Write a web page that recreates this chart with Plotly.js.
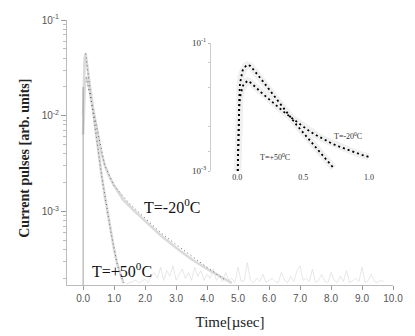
<!DOCTYPE html>
<html><head><meta charset="utf-8">
<script src="https://cdn.plot.ly/plotly-3.0.1.min.js"></script>
<style>html,body{margin:0;padding:0;background:#fff}#chart{width:415px;height:336px}</style>
</head><body><div id="chart"></div>
<script>
// ---- Main panel: measured current pulses (gray bands) ----
const t50 = [0.0, 0.02, 0.05, 0.08, 0.12, 0.2, 0.3, 0.4, 0.5, 0.6, 0.7, 0.8, 0.9, 1.0, 1.1, 1.2, 1.3];
const i50 = [0.01, 0.0282, 0.0398, 0.0447, 0.0355, 0.0219, 0.012, 0.00676, 0.00389, 0.00234, 0.00145, 0.00093, 0.000603, 0.000398, 0.000282, 0.000219, 0.000178];
const t20 = [0.0, 0.03, 0.06, 0.1, 0.15, 0.2, 0.3, 0.4, 0.5, 0.6, 0.7, 0.85, 1.0, 1.3, 1.6, 2.0, 2.5, 3.0, 3.5, 4.0, 4.5, 4.8];
const i20 = [0.00631, 0.0178, 0.0234, 0.0251, 0.0229, 0.0191, 0.0126, 0.00832, 0.00562, 0.00398, 0.00302, 0.00229, 0.00186, 0.00132, 0.00105, 0.000794, 0.000562, 0.000417, 0.000316, 0.000251, 0.0002, 0.000178];
// fitted (dark dotted) lines
const fit50T = [0.08, 0.3, 0.6, 0.9, 1.1, 1.3];
const fit50V = [0.0447, 0.012, 0.00234, 0.0006, 0.00028, 0.00018];
const fit20T = [0.1, 0.4, 0.7, 1.0, 1.5, 2.0, 2.5, 3.0, 3.5, 4.0, 4.6];
const fit20V = [0.0251, 0.0083, 0.003, 0.00186, 0.0012, 0.00085, 0.0006, 0.00045, 0.00034, 0.00026, 0.00019];
// rising edge
const edgeT = [0.0, 0.0];
const edgeV = [0.00017, 0.02];
// noise floor
const noiseT = [1.4,1.5,1.6,1.7,1.8,1.9,2.0,2.1,2.2,2.3,2.4,2.5,2.6,2.7,2.8,2.9,3.0,3.1,3.2,3.3,3.4,3.5,3.6,3.7,3.8,3.9,4.0,4.1,4.2,4.3,4.4,4.5,4.6,4.7,4.8,4.9,5.0,5.1,5.2,5.3,5.4,5.5,5.6,5.7,5.8,5.9,6.0,6.1,6.2,6.3,6.4,6.5,6.6,6.7,6.8,6.9,7.0,7.1,7.2,7.3,7.4,7.5,7.6,7.7,7.8,7.9,8.0,8.1,8.2,8.3,8.4,8.5,8.6,8.7,8.8,8.9,9.0,9.1,9.2,9.3,9.4,9.5,9.6,9.7];
const noiseV = [0.000175,0.00018,0.000185,0.00019,0.000178,0.000185,0.000195,0.00018,0.00021,0.00023,0.0002,0.00026,0.00019,0.00024,0.00021,0.00027,0.00019,0.00022,0.00025,0.0002,0.00023,0.00019,0.00026,0.00021,0.00024,0.00019,0.00022,0.0002,0.00025,0.00019,0.00021,0.000185,0.00023,0.00019,0.0002,0.00018,0.00026,0.000185,0.00019,0.00029,0.00019,0.00018,0.0002,0.000185,0.00022,0.00018,0.00019,0.0002,0.000185,0.00018,0.00023,0.00019,0.00018,0.00021,0.000185,0.00024,0.00027,0.00019,0.0002,0.000185,0.00025,0.00018,0.00019,0.00022,0.000185,0.00018,0.00023,0.00019,0.00018,0.00021,0.000185,0.00024,0.00018,0.00019,0.0002,0.000185,0.00026,0.00018,0.00019,0.00022,0.000185,0.00018,0.00019,0.000185];
// ---- Inset panel ----
const in50T = [0.003, 0.006, 0.01, 0.015, 0.02, 0.03, 0.04, 0.05, 0.06, 0.073, 0.085, 0.1, 0.12, 0.15, 0.18, 0.225, 0.27, 0.31, 0.35, 0.4, 0.45, 0.5, 0.55, 0.6, 0.65, 0.7, 0.73];
const in50V = [0.001, 0.00251, 0.00631, 0.0141, 0.0234, 0.0316, 0.0372, 0.0407, 0.0437, 0.0457, 0.0452, 0.0437, 0.0389, 0.0331, 0.0275, 0.0209, 0.0158, 0.0123, 0.00955, 0.00708, 0.00525, 0.00398, 0.00302, 0.00229, 0.00174, 0.00132, 0.00112];
const in20T = [0.003, 0.006, 0.01, 0.015, 0.02, 0.03, 0.04, 0.05, 0.065, 0.078, 0.09, 0.11, 0.14, 0.18, 0.225, 0.27, 0.31, 0.35, 0.4, 0.45, 0.5, 0.55, 0.6, 0.65, 0.7, 0.75, 0.8, 0.85, 0.9, 0.95, 1.0];
const in20V = [0.001, 0.00224, 0.00501, 0.01, 0.0141, 0.0182, 0.0209, 0.0229, 0.0245, 0.0257, 0.0251, 0.0234, 0.0204, 0.017, 0.0141, 0.0115, 0.00977, 0.00851, 0.00708, 0.00589, 0.0049, 0.00417, 0.00363, 0.00316, 0.00282, 0.00251, 0.00229, 0.00209, 0.00191, 0.00178, 0.00166];
// ---- tick labels ----
const xTickVals = [0,1,2,3,4,5,6,7,8,9,10];
const yMajorVals = [0.001, 0.01, 0.1];
const yMajorText = ['10<sup>-3</sup>', '10<sup>-2</sup>', '10<sup>-1</sup>'];
const yMinorVals = [0.0002,0.0003,0.0004,0.0005,0.0006,0.0007,0.0008,0.0009,0.002,0.003,0.004,0.005,0.006,0.007,0.008,0.009,0.02,0.03,0.04,0.05,0.06,0.07,0.08,0.09];
const insetYVals = [0.001, 0.1];
const insetYText = ['10<sup>-3</sup>', '10<sup>-1</sup>'];
const insetXVals = [0, 0.5, 1.0];
const labels = ['T=-20<sup>0</sup>C', 'T=+50<sup>0</sup>C'];

const serif = 'Liberation Serif, Times New Roman, serif';
const sans = 'Liberation Sans, Arial, sans-serif';
const band = '#dadada';
const traces = [
  {x: noiseT, y: noiseV, mode: 'lines', line: {color: '#dcdcdc', width: 0.7}, xaxis: 'x', yaxis: 'y'},
  {x: t20, y: i20, mode: 'lines', line: {color: band, width: 2.6}, xaxis: 'x', yaxis: 'y'},
  {x: t50, y: i50, mode: 'lines', line: {color: band, width: 2.6}, xaxis: 'x', yaxis: 'y'},
  {x: edgeT, y: edgeV, mode: 'lines', line: {color: '#888', width: 0.8}, xaxis: 'x', yaxis: 'y'},
  {x: fit20T, y: fit20V, mode: 'lines', line: {color: '#666', width: 1, dash: '1px,3px'}, xaxis: 'x', yaxis: 'y'},
  {x: fit50T, y: fit50V, mode: 'lines', line: {color: '#666', width: 1, dash: '1px,3px'}, xaxis: 'x', yaxis: 'y'},
  {x: in20T, y: in20V, mode: 'lines', line: {color: '#f0f0f0', width: 7}, xaxis: 'x2', yaxis: 'y2'},
  {x: in50T, y: in50V, mode: 'lines', line: {color: '#f0f0f0', width: 7}, xaxis: 'x2', yaxis: 'y2'},
  {x: in20T, y: in20V, mode: 'lines', line: {color: '#000', width: 1.8, dash: '2px,3px'}, xaxis: 'x2', yaxis: 'y2'},
  {x: in50T, y: in50V, mode: 'lines', line: {color: '#000', width: 1.8, dash: '2px,3px'}, xaxis: 'x2', yaxis: 'y2'}
];
const ann = (x, y, text, size, color, extra) => Object.assign({xref: 'paper', yref: 'paper', x: x, y: y, xanchor: 'center', yanchor: 'middle', text: text, showarrow: false, font: {family: serif, size: size, color: color}}, extra || {});
const layout = {
  width: 415, height: 336,
  margin: {l: 67, r: 22, t: 20, b: 51},
  paper_bgcolor: '#fff', plot_bgcolor: 'rgba(0,0,0,0)',
  showlegend: false,
  xaxis: {
    range: [-0.52, 10], tickvals: xTickVals, tickformat: '.1f',
    showline: true, linecolor: '#bbb', linewidth: 1, ticks: 'outside', ticklen: 4, tickcolor: '#999',
    showgrid: false, zeroline: false,
    tickfont: {family: sans, size: 10, color: '#555'},
    title: {text: 'Time[µsec]', font: {family: serif, size: 15, color: '#222'}, standoff: 13}
  },
  yaxis: {
    type: 'log', range: [Math.log10(0.00017), -1],
    tickmode: 'array', tickvals: yMajorVals, ticktext: yMajorText,
    showline: true, linecolor: '#bbb', linewidth: 1, ticks: 'outside', ticklen: 5, tickcolor: '#999',
    minor: {tickmode: 'array', tickvals: yMinorVals, ticks: 'outside', ticklen: 3, tickcolor: '#bbb', showgrid: false},
    showgrid: false, zeroline: false,
    tickfont: {family: sans, size: 10, color: '#555'}
  },
  xaxis2: {
    domain: [0.4417, 0.9466], anchor: 'y2', range: [-0.2, 1.05],
    tickvals: insetXVals, tickformat: '.1f',
    showline: false, ticks: '', showgrid: false, zeroline: false,
    tickfont: {family: serif, size: 8, color: '#333'}
  },
  yaxis2: {
    domain: [0.430, 0.913], anchor: 'x2', type: 'log', range: [-3, -1],
    tickmode: 'array', tickvals: insetYVals, ticktext: insetYText,
    showline: true, linecolor: '#ccc', linewidth: 1, ticks: 'outside', ticklen: 2, tickcolor: '#bbb',
    minor: {tickmode: 'array', tickvals: [0.002,0.005,0.02,0.05], ticks: 'outside', ticklen: 2, tickcolor: '#ccc', showgrid: false},
    showgrid: false, zeroline: false,
    tickfont: {family: serif, size: 9, color: '#333'}
  },
  annotations: [
    ann(-0.129, 0.48, '<b>Current pulses [arb. units]</b>', 14, '#222', {textangle: -90}),
    ann(0.322, 0.298, labels[0], 16, '#111'),
    ann(0.169, 0.057, labels[1], 16, '#111'),
    ann(0.862, 0.562, labels[0], 8, '#333'),
    ann(0.638, 0.483, labels[1], 8, '#333')
  ]
};
Plotly.newPlot('chart', traces, layout, {displayModeBar: false, staticPlot: true});
</script>
</body></html>
